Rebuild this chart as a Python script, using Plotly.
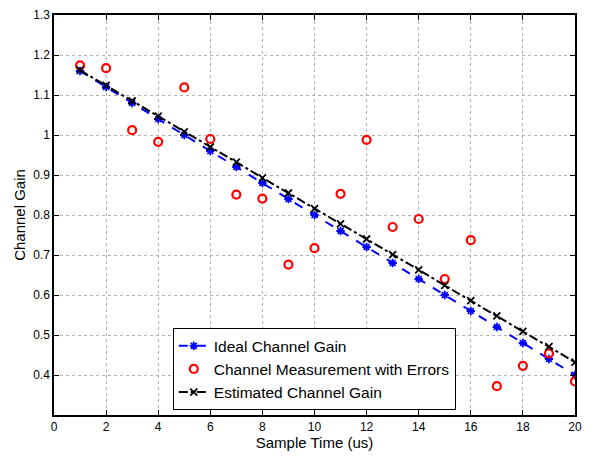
import plotly.graph_objects as go

sample_time = list(range(1, 21))
ideal_gain = [1.16, 1.12, 1.08, 1.04, 1.00, 0.96, 0.92, 0.88, 0.84, 0.80,
              0.76, 0.72, 0.68, 0.64, 0.60, 0.56, 0.52, 0.48, 0.44, 0.40]
measured_gain = [1.174, 1.167, 1.012, 0.983, 1.119, 0.990, 0.851, 0.841, 0.676, 0.717,
                 0.853, 0.988, 0.770, 0.790, 0.640, 0.737, 0.372, 0.423, 0.454, 0.384]
estimated_gain = [1.162, 1.124, 1.085, 1.047, 1.008, 0.970, 0.932, 0.893, 0.855, 0.816,
                  0.778, 0.740, 0.701, 0.663, 0.624, 0.586, 0.548, 0.509, 0.471, 0.432]
x_ticks = [0, 2, 4, 6, 8, 10, 12, 14, 16, 18, 20]
y_ticks = [0.4, 0.5, 0.6, 0.7, 0.8, 0.9, 1.0, 1.1, 1.2, 1.3]
y_tick_labels = ["0.4", "0.5", "0.6", "0.7", "0.8", "0.9", "1", "1.1", "1.2", "1.3"]

fig = go.Figure()
fig.add_trace(go.Scatter(
    x=sample_time, y=ideal_gain, mode="lines+markers", name="Ideal Channel Gain",
    line=dict(color="#0000ff", width=2, dash="dash"),
    marker=dict(symbol="asterisk-open", size=7, color="#0000ff", line=dict(width=1.8, color="#0000ff"))))
fig.add_trace(go.Scatter(
    x=sample_time, y=measured_gain, mode="markers", name="Channel Measurement with Errors",
    marker=dict(symbol="circle-open", size=8, color="#ff0000", line=dict(width=2.2, color="#ff0000"))))
fig.add_trace(go.Scatter(
    x=sample_time, y=estimated_gain, mode="lines+markers", name="Estimated Channel Gain",
    line=dict(color="#000000", width=2, dash="dashdot"),
    marker=dict(symbol="x-thin-open", size=7, color="#000000", line=dict(width=1.8, color="#000000"))))

axis_common = dict(
    showline=True, linecolor="black", linewidth=1.5, mirror="ticks",
    ticks="inside", ticklen=5, tickcolor="black", automargin=False,
    ticklabeloverflow="allow",
    showgrid=True, gridcolor="#b0b0b0", griddash="dot", gridwidth=1,
    zeroline=False, tickfont=dict(family="Liberation Sans, Arial, sans-serif", size=12, color="black"),
)

fig.update_layout(
    width=587, height=449,
    margin=dict(l=46, r=20, t=7, b=42),
    paper_bgcolor="white", plot_bgcolor="white",
    font=dict(family="Liberation Sans, Arial, sans-serif", color="black"),
    xaxis=dict(range=[0, 20], tickvals=x_ticks,
               title=dict(text="Sample Time (us)", font=dict(size=15), standoff=2), **axis_common),
    yaxis=dict(range=[0.3, 1.3], tickvals=y_ticks, ticktext=y_tick_labels,
               title=dict(text="Channel Gain", font=dict(size=15), standoff=4), **axis_common),
    legend=dict(x=0.228, y=0.012, xanchor="left", yanchor="bottom",
                bgcolor="white", bordercolor="black", borderwidth=1,
                font=dict(size=15.5), tracegroupgap=0, itemwidth=30),
    showlegend=True,
)

fig.write_html("out.html")
